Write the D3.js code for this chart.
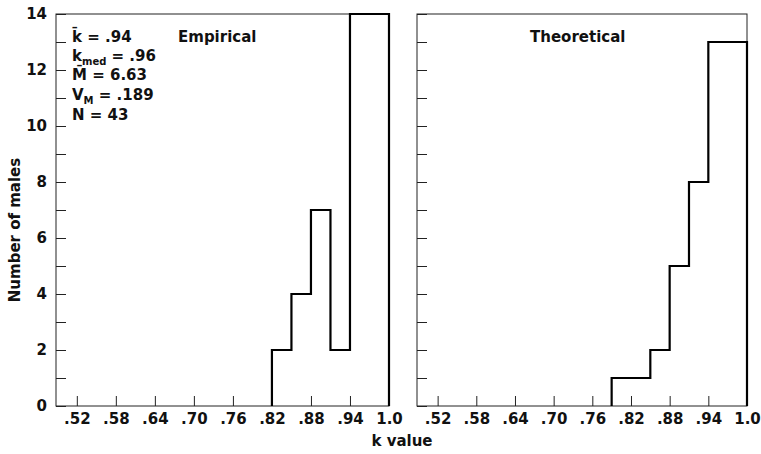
<!DOCTYPE html>
<html>
<head>
<meta charset="utf-8">
<script src="https://cdn.jsdelivr.net/npm/d3@7"></script>
<style>
  html, body { margin: 0; padding: 0; background: #fff; }
  svg text { font-family: "DejaVu Sans", sans-serif; font-weight: bold; fill: #111; }
</style>
</head>
<body>
<svg id="chart" width="761" height="454"></svg>
<script>
// ---- data ----
const binEdges = [0.79, 0.82, 0.85, 0.88, 0.91, 0.94, 0.97, 1.0];
const empirical = [0, 2, 4, 7, 2, 14, 14];
const theoretical = [1, 1, 2, 5, 8, 13, 13];
const xTickValues = [0.52, 0.58, 0.64, 0.70, 0.76, 0.82, 0.88, 0.94, 1.0];
const xTickLabels = [".52", ".58", ".64", ".70", ".76", ".82", ".88", ".94", "1.0"];
const yTickValues = [0, 1, 2, 3, 4, 5, 6, 7, 8, 9, 10, 11, 12, 13, 14];
const yTickLabels = ["0", "", "2", "", "4", "", "6", "", "8", "", "10", "", "12", "", "14"];
const panelTitles = ["Empirical", "Theoretical"];
const statsLabels = [
  ["k\u0304", "", " = .94"],
  ["k", "med", " = .96"],
  ["M\u0304", "", " = 6.63"],
  ["V", "M", " = .189"],
  ["N", "", " = 43"]
];
const xAxisTitle = "k value";
const yAxisTitle = "Number of males";

// ---- layout ----
const svg = d3.select("#chart");
const yTop = 14, yBottom = 406;
const panels = [
  { x0: 56, x1: 389, values: empirical, title: panelTitles[0], titleX: 178, yLabels: true },
  { x0: 417, x1: 747, values: theoretical, title: panelTitles[1], titleX: 530, yLabels: false }
];
const y = d3.scaleLinear().domain([0, 14]).range([yBottom, yTop]);

panels.forEach(p => {
  const x = d3.scaleLinear().domain([0.488, 1.0]).range([p.x0, p.x1]);
  const g = svg.append("g");

  // frame
  g.append("rect")
    .attr("x", p.x0).attr("y", yTop)
    .attr("width", p.x1 - p.x0).attr("height", yBottom - yTop)
    .attr("fill", "none").attr("stroke", "#222").attr("stroke-width", 1);

  // x axis
  const xa = g.append("g").attr("transform", `translate(0,${yBottom})`)
    .call(d3.axisBottom(x).tickValues(xTickValues)
      .tickFormat((d, i) => xTickLabels[i])
      .tickSize(-10).tickPadding(7));
  xa.select(".domain").remove();
  xa.selectAll("line").attr("stroke", "#222");
  xa.selectAll("text").style("font-size", "15px").attr("fill", "#111");

  // y axis
  const ya = g.append("g").attr("transform", `translate(${p.x0},0)`)
    .call(d3.axisLeft(y).tickValues(yTickValues)
      .tickFormat((d, i) => p.yLabels ? yTickLabels[i] : "")
      .tickSize(-10).tickPadding(9));
  ya.select(".domain").remove();
  ya.selectAll("line").attr("stroke", "#222");
  ya.selectAll("text").style("font-size", "15px").attr("fill", "#111");

  // step histogram (starting at the first non-empty bin)
  const first = p.values.findIndex(v => v > 0);
  const pts = [[binEdges[first], 0]];
  p.values.forEach((v, i) => {
    if (i < first) return;
    pts.push([binEdges[i], v]);
    pts.push([binEdges[i + 1], v]);
  });
  pts.push([binEdges[binEdges.length - 1], 0]);
  const line = d3.line().x(d => x(d[0])).y(d => y(d[1]));
  g.append("path").attr("d", line(pts))
    .attr("fill", "none").attr("stroke", "#000").attr("stroke-width", 2.2)
    .attr("stroke-linejoin", "miter");

  // panel title
  g.append("text").attr("x", p.titleX).attr("y", 42)
    .style("font-size", "15px").text(p.title);
});

// stats block
const rowY = [42, 61, 80, 100, 120];
statsLabels.forEach((r, i) => {
  const t = svg.append("text").attr("x", 72).attr("y", rowY[i]).style("font-size", "15px");
  t.append("tspan").text(r[0]);
  if (r[1]) t.append("tspan").attr("dy", 4).style("font-size", "10px").text(r[1]);
  t.append("tspan").attr("dy", r[1] ? -4 : 0).text(r[2]);
});

// axis titles
svg.append("text").attr("x", 402).attr("y", 446).attr("text-anchor", "middle")
  .style("font-size", "15px").text(xAxisTitle);
svg.append("text").attr("transform", "translate(20,230) rotate(-90)")
  .attr("text-anchor", "middle").style("font-size", "15px").text(yAxisTitle);
</script>
</body>
</html>
